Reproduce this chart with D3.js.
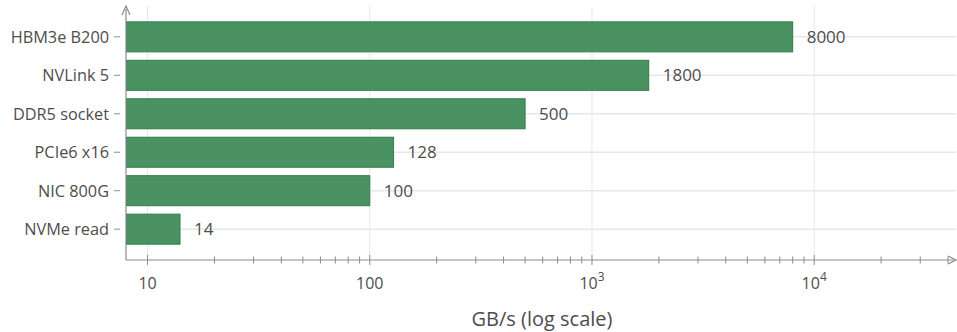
<!DOCTYPE html>
<html>
<head>
<meta charset="utf-8">
<script src="https://cdn.jsdelivr.net/npm/d3@7"></script>
<style>
  html, body { margin: 0; padding: 0; background: #ffffff; }
  svg { display: block; font-family: "Open Sans", "Noto Sans", sans-serif; }
</style>
</head>
<body>
<svg id="chart" width="957" height="332"></svg>
<script>
// Interconnect and memory bandwidths, GB/s
const links = ["HBM3e B200", "NVLink 5", "DDR5 socket", "PCIe6 x16", "NIC 800G", "NVMe read"];
const bandwidth = [8000, 1800, 500, 128, 100, 14];
const decadeTicks = [10, 100, 1000, 10000];
const decadeLabels = ["10", "100", "10^3", "10^4"];
const axisTitle = "GB/s (log scale)";

(function draw() {
const svg = d3.select("#chart");
const plotLeft = 126, plotRight = 948, plotTop = 18, plotBottom = 248, axisY = 260;

const x = d3.scaleLog().domain([8, 40000]).range([plotLeft, plotRight]);
const y = d3.scaleBand().domain(links).range([plotTop, plotBottom]).paddingInner(0.22).paddingOuter(0.1);

const gridColor = "#e6e9e9";
const axisColor = "#8a8d8d";
const textColor = "#4d4d4d";

// vertical gridlines at each decade
svg.append("g").selectAll("line").data(decadeTicks).join("line")
  .attr("x1", d => x(d)).attr("x2", d => x(d))
  .attr("y1", 6).attr("y2", axisY)
  .attr("stroke", gridColor).attr("stroke-width", 1);

// horizontal gridlines through each bar centre
svg.append("g").selectAll("line").data(links).join("line")
  .attr("x1", plotLeft).attr("x2", plotRight + 8)
  .attr("y1", d => y(d) + y.bandwidth() / 2).attr("y2", d => y(d) + y.bandwidth() / 2)
  .attr("stroke", gridColor).attr("stroke-width", 1.5);

// bars
const rows = links.map((name, i) => ({ name, value: bandwidth[i] }));
svg.append("g").selectAll("rect").data(rows).join("rect")
  .attr("x", plotLeft + 0.5)
  .attr("y", d => y(d.name))
  .attr("width", d => x(d.value) - plotLeft - 0.5)
  .attr("height", y.bandwidth())
  .attr("fill", "#4a9262")
  .attr("stroke", "#2f7d48")
  .attr("stroke-width", 1);

// value labels
svg.append("g").selectAll("text").data(rows).join("text")
  .attr("x", d => x(d.value) + 14)
  .attr("y", d => y(d.name) + y.bandwidth() / 2)
  .attr("dy", "0.36em")
  .attr("fill", textColor)
  .attr("font-size", 17)
  .text(d => d.value);

// category axis
const yAxis = svg.append("g");
yAxis.selectAll("line").data(links).join("line")
  .attr("x1", 114).attr("x2", 120)
  .attr("y1", d => y(d) + y.bandwidth() / 2).attr("y2", d => y(d) + y.bandwidth() / 2)
  .attr("stroke", axisColor);
yAxis.selectAll("text").data(links).join("text")
  .attr("x", 109)
  .attr("y", d => y(d) + y.bandwidth() / 2)
  .attr("dy", "0.36em")
  .attr("text-anchor", "end")
  .attr("fill", textColor)
  .attr("font-size", 16.3)
  .text(d => d);

// axis lines with arrowheads
svg.append("line").attr("x1", plotLeft).attr("x2", plotLeft).attr("y1", 9).attr("y2", axisY)
  .attr("stroke", axisColor).attr("stroke-width", 1.2);
svg.append("path").attr("d", `M${plotLeft - 4},15 L${plotLeft},6 L${plotLeft + 4},15`)
  .attr("fill", "none").attr("stroke", axisColor).attr("stroke-width", 1.2);
svg.append("line").attr("x1", plotLeft).attr("x2", 954).attr("y1", axisY).attr("y2", axisY)
  .attr("stroke", axisColor).attr("stroke-width", 1.2);
svg.append("path").attr("d", `M948,${axisY - 4} L956,${axisY} L948,${axisY + 4}`)
  .attr("fill", "none").attr("stroke", axisColor).attr("stroke-width", 1.2);

// log ticks: major at decades, minor in between
const allTicks = x.ticks().filter(d => d >= 10 && d <= 40000);
svg.append("g").selectAll("line").data(allTicks).join("line")
  .attr("x1", d => x(d)).attr("x2", d => x(d))
  .attr("y1", d => decadeTicks.includes(d) ? axisY - 5 : axisY - 3.5)
  .attr("y2", d => decadeTicks.includes(d) ? axisY + 5 : axisY + 3.5)
  .attr("stroke", axisColor).attr("stroke-width", 1);

// decade labels with superscript exponents
const lbl = svg.append("g").selectAll("text").data(decadeTicks).join("text")
  .attr("x", d => x(d))
  .attr("y", axisY + 29)
  .attr("text-anchor", "middle")
  .attr("fill", textColor)
  .attr("font-size", 16);
lbl.each(function(d, i) {
  const t = d3.select(this);
  const parts = decadeLabels[i].split("^");
  t.append("tspan").text(parts[0]);
  if (parts[1]) {
    t.append("tspan").attr("dy", -8).attr("font-size", 12).text(parts[1]);
  }
});

// axis title
svg.append("text")
  .attr("x", 542).attr("y", 326)
  .attr("text-anchor", "middle")
  .attr("fill", textColor)
  .attr("font-size", 20)
  .text(axisTitle);
})();
</script>
</body>
</html>
